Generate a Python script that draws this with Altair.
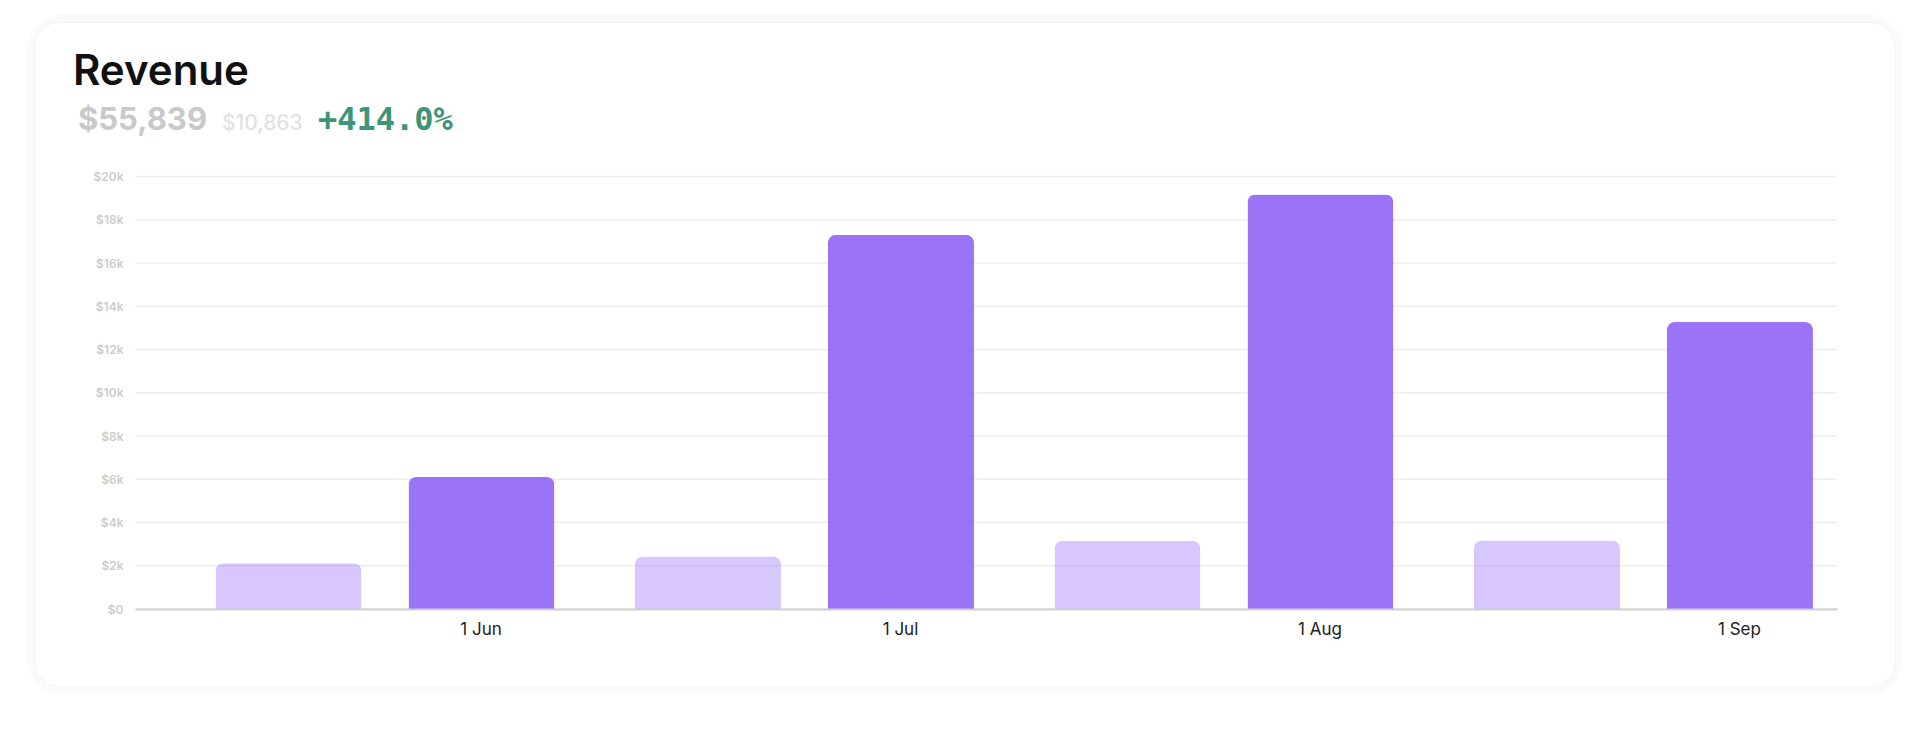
import altair as alt
import pandas as pd

# ---- data ----
months = ["1 Jun", "1 Jul", "1 Aug", "1 Sep"]
current = [6100, 17300, 19170, 13269]
previous = [2120, 2430, 3150, 3163]
y_ticks = [0, 2000, 4000, 6000, 8000, 10000, 12000, 14000, 16000, 18000, 20000]
y_tick_labels = ["$0", "$2k", "$4k", "$6k", "$8k", "$10k", "$12k", "$14k", "$16k", "$18k", "$20k"]
title_text = "Revenue"

total_cur = sum(current)
total_prev = sum(previous)
pct = (total_cur / total_prev - 1) * 100

rows = []
for m, p, c in zip(months, previous, current):
    rows.append({"month": m, "period": "previous", "value": p})
    rows.append({"month": m, "period": "current", "value": c})
df = pd.DataFrame(rows)
grid_df = pd.DataFrame({"v": y_ticks})

label_expr = ""
for v, l in zip(y_ticks, y_tick_labels):
    label_expr += f"datum.value == {v} ? '{l}' : "
label_expr += "''"

FONT = "Inter"
y_scale = alt.Scale(domain=[0, 20000], nice=False)

bars = alt.Chart(df).mark_bar(
    cornerRadiusTopLeft=8, cornerRadiusTopRight=8
).encode(
    x=alt.X("month:N", sort=months,
            scale=alt.Scale(paddingInner=0.1919, paddingOuter=0.1246, align=0.77),
            axis=alt.Axis(title=None, labelAngle=0, ticks=False, labelOffset=96,
                          domainColor="#d0d0d0", domainWidth=2, labelFontSize=17,
                          labelColor="#222222", labelPadding=12, labelFont=FONT,
                          grid=False, zindex=1)),
    xOffset=alt.XOffset("period:N", sort=["previous", "current"],
                        scale=alt.Scale(paddingInner=0.2435, paddingOuter=0)),
    y=alt.Y("value:Q", scale=y_scale,
            axis=alt.Axis(title=None, values=y_ticks, labelExpr=label_expr,
                          domain=False, ticks=False, grid=False,
                          labelColor="#cccccc", labelFontSize=12,
                          labelPadding=12, labelFont=FONT, labelFontWeight=600,
                          zindex=1)),
    color=alt.Color("period:N",
                    scale=alt.Scale(domain=["previous", "current"],
                                    range=["rgba(139,92,246,0.34)", "rgba(139,92,246,0.86)"]),
                    legend=None),
)

grid = alt.Chart(grid_df).mark_rule(color="#eeeeee", strokeWidth=1.5).encode(
    y=alt.Y("v:Q", scale=y_scale)
)

one = pd.DataFrame({"t": [""]})

shadow = alt.Chart(one).mark_rect(
    cornerRadius=28, fill="#ffffff", stroke="#000000", strokeOpacity=0.018, strokeWidth=16
).encode(x=alt.value(-100), x2=alt.value(1760), y=alt.value(-154), y2=alt.value(510))

card = alt.Chart(one).mark_rect(
    cornerRadius=24, fill="#ffffff", stroke="#f4f4f4", strokeWidth=1
).encode(x=alt.value(-100), x2=alt.value(1760), y=alt.value(-154), y2=alt.value(510))

title = alt.Chart(pd.DataFrame({"t": [title_text]})).mark_text(
    align="left", baseline="alphabetic", font=FONT, fontSize=42, fontWeight=600, color="#111111"
).encode(x=alt.value(-62), y=alt.value(-91.5), text="t:N")

big = alt.Chart(pd.DataFrame({"t": [f"${total_cur:,}"]})).mark_text(
    align="left", baseline="alphabetic", font=FONT, fontSize=31, fontWeight=700, color="#c9c9c9"
).encode(x=alt.value(-57), y=alt.value(-46.5), text="t:N")

prev_txt = alt.Chart(pd.DataFrame({"t": [f"${total_prev:,}"]})).mark_text(
    align="left", baseline="alphabetic", font=FONT, fontSize=21, fontWeight=500, color="#e2e2e2"
).encode(x=alt.value(87), y=alt.value(-47), text="t:N")

pct_txt = alt.Chart(pd.DataFrame({"t": [f"+{pct:.1f}%"]})).mark_text(
    align="left", baseline="alphabetic", font="DejaVu Sans Mono", fontSize=32, fontWeight=700,
    color="#3d9478"
).encode(x=alt.value(183), y=alt.value(-46.5), text="t:N")

chart = alt.layer(shadow, card, grid, bars, title, big, prev_txt, pct_txt).properties(
    width=1702, height=432.5,
    padding={"left": 127, "top": 168.5, "right": 80, "bottom": 110},
    autosize=alt.AutoSizeParams(type="none"),
    background="#ffffff",
).configure_view(stroke=None)

chart.save("out.html", embed_options={"renderer": "svg", "actions": False})
